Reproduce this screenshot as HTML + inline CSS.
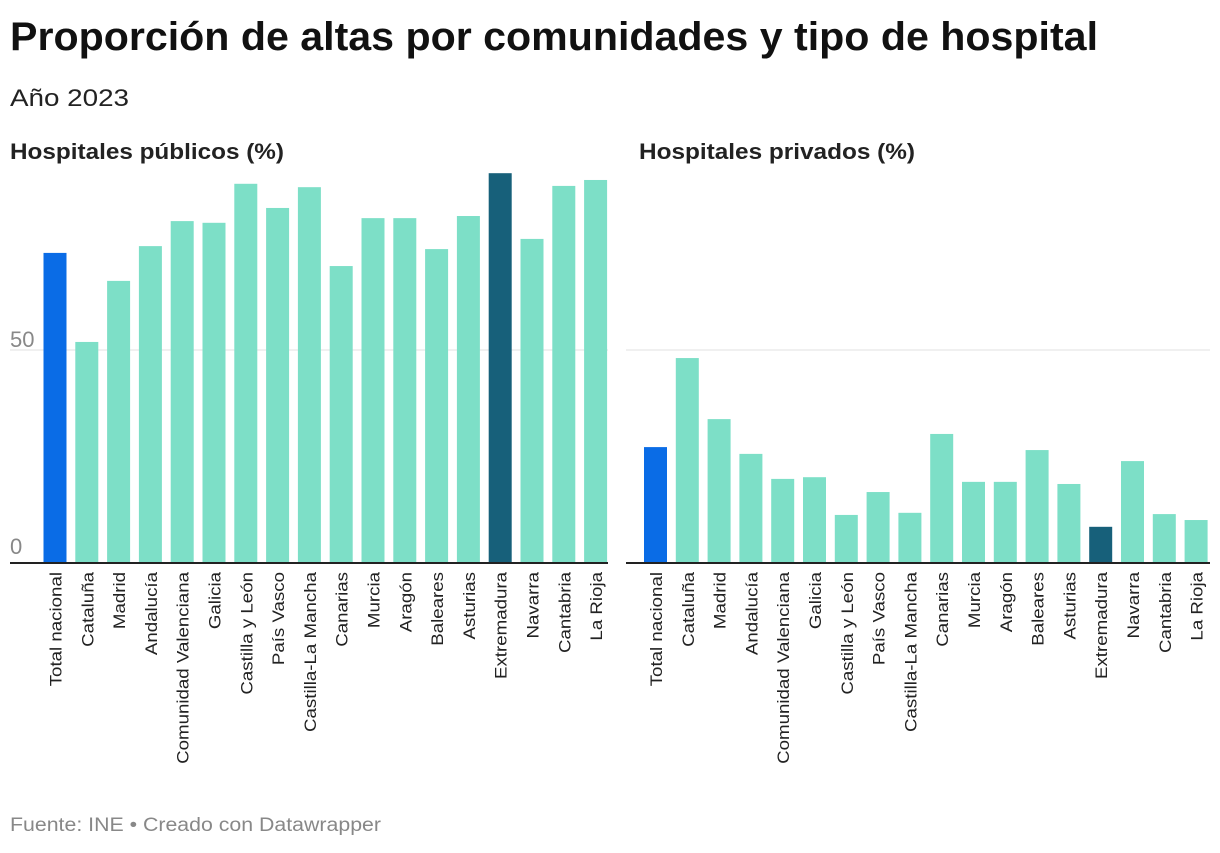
<!DOCTYPE html>
<html><head><meta charset="utf-8"><style>
body{margin:0;width:1220px;height:848px;background:#fff;font-family:"Liberation Sans",Arial,sans-serif;overflow:hidden}
</style></head><body>
<svg width="1220" height="848" xmlns="http://www.w3.org/2000/svg" id="root">
<text x="10" y="50" font-size="40" font-weight="bold" fill="#111" textLength="1088" lengthAdjust="spacingAndGlyphs">Proporción de altas por comunidades y tipo de hospital</text>
<text x="10" y="106" font-size="24" fill="#222" textLength="119" lengthAdjust="spacingAndGlyphs">Año 2023</text>
<text x="10" y="159" font-size="22" font-weight="bold" fill="#222" textLength="274" lengthAdjust="spacingAndGlyphs">Hospitales públicos (%)</text>
<text x="639" y="159" font-size="22" font-weight="bold" fill="#222" textLength="276" lengthAdjust="spacingAndGlyphs">Hospitales privados (%)</text>
<text x="10" y="831" font-size="19" fill="#888" textLength="371" lengthAdjust="spacingAndGlyphs">Fuente: INE • Creado con Datawrapper</text>
<g id="g"></g>
</svg>
<script>
const categories=["Total nacional","Cataluña","Madrid","Andalucía","Comunidad Valenciana","Galicia","Castilla y León","País Vasco","Castilla-La Mancha","Canarias","Murcia","Aragón","Baleares","Asturias","Extremadura","Navarra","Cantabria","La Rioja"];
const publicValues=[72.9,51.9,66.3,74.5,80.4,80.0,89.2,83.5,88.4,69.8,81.1,81.1,73.8,81.6,91.7,76.2,88.7,90.1];
const privateValues=[27.1,48.1,33.7,25.5,19.6,20.0,11.1,16.5,11.6,30.2,18.9,18.9,26.4,18.4,8.3,23.8,11.3,9.9];
const tickValues=[0,50];
const NS="http://www.w3.org/2000/svg";
const g=document.getElementById('g');
const y0=562, pxPer=212/50;
const y=v=>y0-v*pxPer;
function mk(t,a){const e=document.createElementNS(NS,t);for(const k in a)e.setAttribute(k,a[k]);g.appendChild(e);return e;}
function panel(vals,x0,x1,firstBar,showLabels,name){
  tickValues.forEach(t=>{
    if(t>0){const l=mk('line',{x1:x0,x2:x1,y1:y(t),y2:y(t),stroke:'#e2e2e2','stroke-width':1});
    
    }
    if(showLabels){const tx=mk('text',{x:10,y:y(t)-(t>0?3:8),'font-size':22,fill:'#888'});tx.textContent=t;
    
    }
  });
  vals.forEach((v,i)=>{
    const bx=firstBar+i*31.8;
    const col=i===0?'#0a6ce6':(categories[i]==='Extremadura'?'#17607a':'#7ddfc7');
    const r=mk('rect',{x:bx,y:y(v),width:23,height:y0-y(v),fill:col});
    
    
    const tx=mk('text',{x:0,y:0,'font-size':17,fill:'#222','text-anchor':'end',transform:`translate(${bx+18},572) rotate(-90) scale(1.1,1)`});
    tx.textContent=categories[i];
    
    
  });
  const b=mk('line',{x1:x0,x2:x1,y1:y0+1,y2:y0+1,stroke:'#222','stroke-width':2});
  
  
}
panel(publicValues,10,608,43.5,true,'public');
panel(privateValues,626,1210,644,false,'private');
</script>
</body></html>
